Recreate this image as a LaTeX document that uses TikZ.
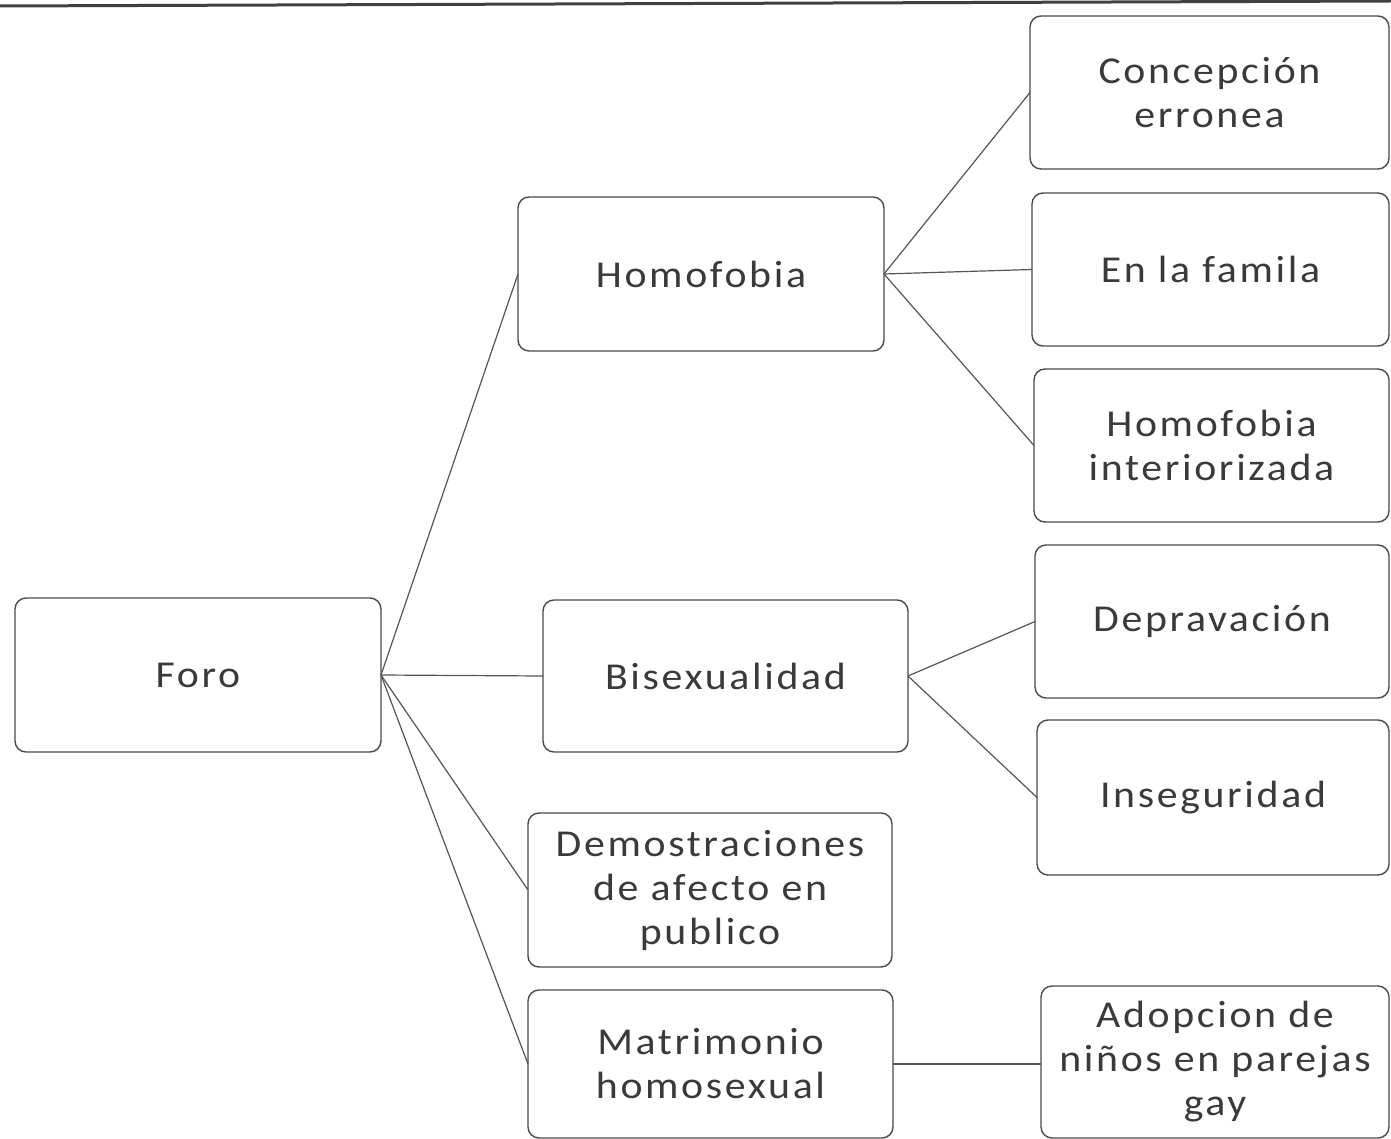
\documentclass[tikz,border=0pt]{standalone}
\usepackage{fontspec}
\setmainfont{Carlito}[FakeStretch=1.1,LetterSpace=7]
\definecolor{boxline}{HTML}{4A4A4A}
\definecolor{linkline}{HTML}{555555}
\definecolor{txt}{HTML}{3A3A3A}
\begin{document}
\begin{tikzpicture}[x=1pt,y=-1pt,
  box/.style={draw=boxline, line width=1.4pt, rounded corners=11pt, fill=white,
    inner sep=0pt, outer sep=0pt, align=center, text=txt,
    font=\fontsize{38}{44}\selectfont},
  link/.style={draw=linkline, line width=1.2pt}]
\useasboundingbox (0,0) rectangle (1391,1139);
\draw[line width=3pt, draw=black!75] (0,6) -- (1391,1);
% level 1
\node[box, minimum width=366pt, minimum height=154pt] (foro) at (198,675) {Foro};
% level 2
\node[box, minimum width=366pt, minimum height=154pt] (homo) at (701,274) {Homofobia};
\node[box, minimum width=365pt, minimum height=152pt] (bisex) at (725.5,676) {Bisexualidad};
\node[box, minimum width=364pt, minimum height=154pt] (demo) at (710,890) {Demostraciones\\de afecto en\\publico};
\node[box, minimum width=365pt, minimum height=148pt] (matri) at (710.5,1064) {Matrimonio\\homosexual};
% level 3
\node[box, minimum width=359pt, minimum height=153pt] (conc) at (1209.5,92.5) {Concepción\\erronea};
\node[box, minimum width=357pt, minimum height=153pt] (fam) at (1210.5,269.5) {En la famila};
\node[box, minimum width=355pt, minimum height=153pt] (hint) at (1211.5,445.5) {Homofobia\\interiorizada};
\node[box, minimum width=354pt, minimum height=153pt] (dep) at (1212,621.5) {Depravación};
\node[box, minimum width=352pt, minimum height=155pt] (inseg) at (1213,797.5) {Inseguridad};
\node[box, minimum width=348pt, minimum height=152pt] (adop) at (1215,1062) {Adopcion de\\niños en parejas\\gay};
% connectors
\draw[link] (foro.east) -- (homo.west);
\draw[link] (foro.east) -- (bisex.west);
\draw[link] (foro.east) -- (demo.west);
\draw[link] (foro.east) -- (matri.west);
\draw[link] (homo.east) -- (conc.west);
\draw[link] (homo.east) -- (fam.west);
\draw[link] (homo.east) -- (hint.west);
\draw[link] (bisex.east) -- (dep.west);
\draw[link] (bisex.east) -- (inseg.west);
\draw[link] (matri.east) -- (matri.east -| adop.west);
\end{tikzpicture}
\end{document}
